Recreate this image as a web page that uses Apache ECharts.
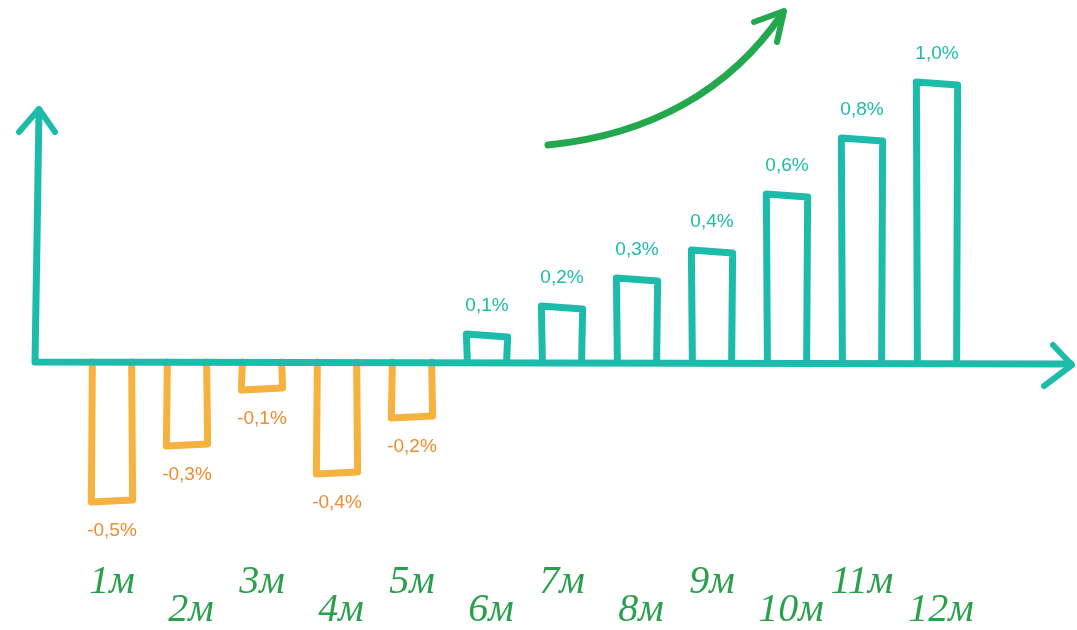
<!DOCTYPE html>
<html>
<head>
<meta charset="utf-8">
<script src="https://cdn.jsdelivr.net/npm/echarts@6/dist/echarts.min.js"></script>
<style>
  html, body { margin: 0; padding: 0; background: #ffffff; }
  #chart { width: 1077px; height: 630px; }
</style>
</head>
<body>
<div id="chart"></div>
<script>
// Monthly change, %
const categories = ['1м', '2м', '3м', '4м', '5м', '6м', '7м', '8м', '9м', '10м', '11м', '12м'];
const values = [-0.5, -0.3, -0.1, -0.4, -0.2, 0.1, 0.2, 0.3, 0.4, 0.6, 0.8, 1.0];

const TEAL = '#1dbcaa';
const BAR_ORANGE = '#f6b13e';
const LABEL_ORANGE = '#f28a2e';
const GREEN = '#2aa04c';

const fmt = v => (v).toFixed(1).replace('.', ',') + '%';

const chart = echarts.init(document.getElementById('chart'));

const labelFont = { fontFamily: 'Liberation Serif', fontStyle: 'italic', fontSize: 40, color: GREEN, lineHeight: 40 };

chart.setOption({
  backgroundColor: '#ffffff',
  animation: false,
  grid: { left: 74.5, right: 102.5, top: 54, bottom: 72 },
  xAxis: {
    type: 'category',
    data: categories,
    axisLine: { show: false },
    axisTick: { show: false },
    splitLine: { show: false },
    axisLabel: {
      margin: 4,
      interval: 0,
      formatter: (val, idx) => (idx % 2 === 0 ? '{u|' + val + '}' : '{d|' + val + '}'),
      rich: {
        u: Object.assign({ padding: [0, 0, 0, 0] }, labelFont),
        d: Object.assign({ padding: [56, 0, 0, 8] }, labelFont)
      }
    }
  },
  yAxis: {
    type: 'value',
    min: -0.7,
    max: 1.1,
    show: false,
    splitLine: { show: false }
  },
  series: [{
    type: 'custom',
    data: values.map((v, i) => [i, v]),
    renderItem: (params, api) => {
      const idx = api.value(0);
      const v = api.value(1);
      const base = api.coord([idx, 0]);
      const top = api.coord([idx, v]);
      const x = base[0], y0 = base[1], y1 = top[1];
      const w = api.size([1, 0])[0] * 0.55;
      const pos = v >= 0;
      const stroke = pos ? TEAL : BAR_ORANGE;
      const tilt = pos ? 3 : -2;
      return {
        type: 'group',
        children: [
          {
            type: 'polyline',
            shape: {
              points: [
                [x - w / 2 + 1, y0],
                [x - w / 2, y1],
                [x + w / 2, y1 + tilt],
                [x + w / 2 - 1, y0]
              ]
            },
            style: {
              stroke: stroke,
              fill: null,
              lineWidth: 7,
              lineJoin: 'round',
              lineCap: 'round'
            }
          },
          {
            type: 'text',
            style: {
              text: fmt(v),
              x: x,
              y: pos ? y1 - 28 : y1 + 29,
              align: 'center',
              verticalAlign: 'middle',
              fill: pos ? TEAL : LABEL_ORANGE,
              font: '19px "Liberation Sans", sans-serif'
            }
          }
        ]
      };
    }
  }]
});

// Hand-drawn axes and the trend arrow
const y0 = chart.convertToPixel({ yAxisIndex: 0 }, 0);
const axisStyle = { stroke: TEAL, lineWidth: 7, lineCap: 'round', lineJoin: 'round', fill: null };
chart.setOption({
  graphic: [
    { type: 'polyline', z: 100, shape: { points: [[39, 110], [37, 240], [35, y0], [1071, y0 + 2]] }, style: axisStyle },
    { type: 'polyline', z: 100, shape: { points: [[19, 132], [39, 109], [55, 132]] }, style: Object.assign({}, axisStyle, { lineWidth: 6 }) },
    { type: 'polyline', z: 100, shape: { points: [[1053, y0 - 17], [1072, y0 + 3], [1044, y0 + 24]] }, style: Object.assign({}, axisStyle, { lineWidth: 6 }) },
    {
      type: 'bezierCurve', z: 100,
      shape: { x1: 548, y1: 145, cpx1: 650, cpy1: 135, cpx2: 730, cpy2: 90, x2: 782, y2: 14 },
      style: { stroke: '#23a84e', lineWidth: 7, lineCap: 'round', fill: null }
    },
    { type: 'polyline', z: 100, shape: { points: [[754, 22], [784, 11], [777, 42]] }, style: { stroke: '#23a84e', lineWidth: 6, lineCap: 'round', lineJoin: 'round', fill: null } }
  ]
});
</script>
</body>
</html>
